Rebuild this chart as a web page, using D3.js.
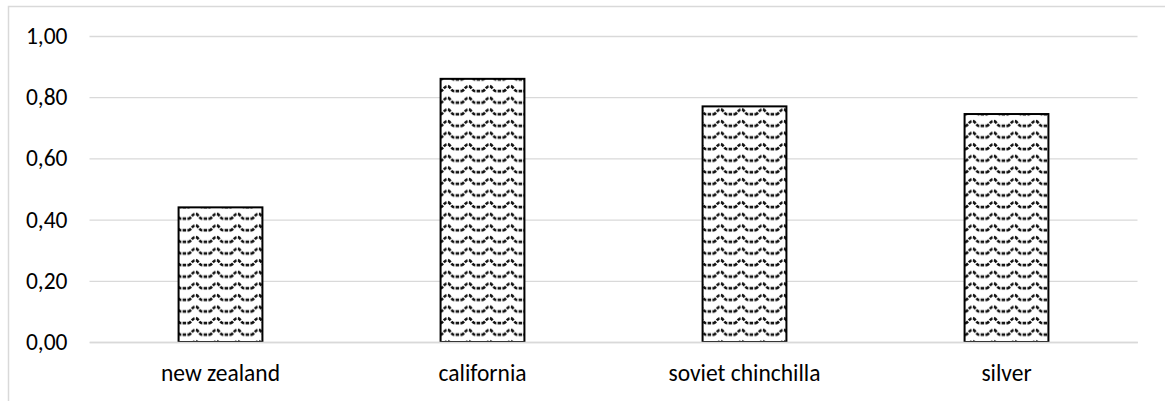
<!DOCTYPE html>
<html>
<head>
<meta charset="utf-8">
<script src="https://cdn.jsdelivr.net/npm/d3@7"></script>
<style>
  html, body { margin: 0; padding: 0; background: #fff; }
  svg { display: block; }
  text { font-family: Carlito, Calibri, Lato, "Liberation Sans", sans-serif; fill: #000; }
</style>
</head>
<body>
<svg id="chart" width="1165" height="401"></svg>
<script>
const categories = ["new zealand", "california", "soviet chinchilla", "silver"];
const values = [0.44, 0.86, 0.77, 0.745];
const yTicks = [0, 0.2, 0.4, 0.6, 0.8, 1.0];

const svg = d3.select("#chart");
const plot = { left: 89.5, right: 1137.5, top: 36, bottom: 342 };

// outer chart frame
svg.append("rect")
  .attr("x", 8.5).attr("y", 6.5)
  .attr("width", 1200).attr("height", 500)
  .attr("fill", "#fff").attr("stroke", "#d9d9d9").attr("stroke-width", 1.5);

// wave pattern
const defs = svg.append("defs");
const pw = 21, ph = 11.6;
const pat = defs.append("pattern")
  .attr("id", "wave")
  .attr("patternUnits", "userSpaceOnUse")
  .attr("width", pw).attr("height", ph)
  .attr("x", 0).attr("y", 2);
pat.append("rect").attr("width", pw).attr("height", ph).attr("fill", "#fff");
const lo = ph * 0.68, hi = ph * 0.26;
pat.append("path")
  .attr("d", `M-1,${lo} C${pw*0.12},${lo} ${pw*0.14},${hi} ${pw*0.3},${hi} C${pw*0.46},${hi} ${pw*0.48},${lo} ${pw*0.62},${lo} L${pw+1},${lo}`)
  .attr("fill", "none").attr("stroke", "#111").attr("stroke-width", 2.6)
  .attr("stroke-dasharray", "3.5,1.3");

const x = d3.scaleBand()
  .domain(categories)
  .range([plot.left, plot.right])
  .paddingInner(0.68)
  .paddingOuter(0.34);

const y = d3.scaleLinear()
  .domain([0, 1])
  .range([plot.bottom, plot.top]);

const fmt = d3.formatLocale({ decimal: ",", thousands: ".", grouping: [3], currency: ["", ""] }).format(".2f");

// gridlines + y labels via axis
const yAxis = d3.axisLeft(y)
  .tickValues(yTicks)
  .tickFormat(fmt)
  .tickSize(-(plot.right - plot.left))
  .tickPadding(22);

const gy = svg.append("g")
  .attr("transform", `translate(${plot.left},0)`)
  .call(yAxis);
gy.select(".domain").remove();
gy.selectAll(".tick line").attr("stroke", "#d9d9d9").attr("stroke-width", 1.3);
gy.selectAll(".tick text")
  .style("font-size", "23.5px")
  .attr("fill", "#000");

// bars
svg.append("g").selectAll("rect")
  .data(values)
  .join("rect")
  .attr("x", (d, i) => x(categories[i]))
  .attr("y", d => y(d))
  .attr("width", x.bandwidth())
  .attr("height", d => y(0) - y(d))
  .attr("fill", "url(#wave)")
  .attr("stroke", "#000")
  .attr("stroke-width", 2);

// x axis labels
const xAxis = d3.axisBottom(x).tickSize(0).tickPadding(22);
const gx = svg.append("g")
  .attr("transform", `translate(0,${plot.bottom})`)
  .call(xAxis);
gx.select(".domain").attr("stroke", "#d9d9d9").attr("stroke-width", 1.3);
gx.selectAll(".tick text").style("font-size", "23.5px").attr("fill", "#000");
</script>
</body>
</html>
